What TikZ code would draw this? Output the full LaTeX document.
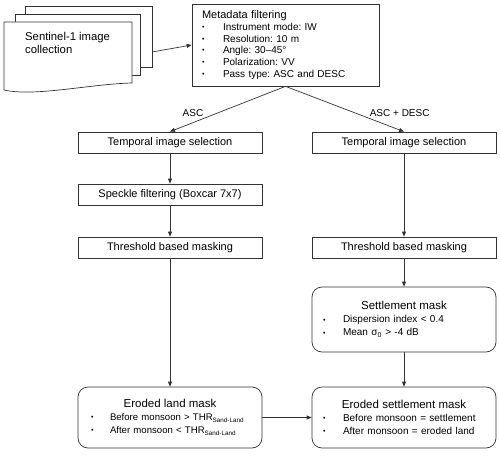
\documentclass[tikz,border=0pt]{standalone}
\usepackage{fontspec}
\setmainfont{Liberation Sans}
\usetikzlibrary{arrows.meta}
\frenchspacing

\newcommand{\bitem}[2][20pt]{\mbox{\makebox[#1][l]{\raisebox{0.8pt}{\fontsize{7}{7}\selectfont\textbullet}}#2}}
\newcommand{\boxtitle}[1]{\centerline{\fontsize{11.5}{13}\selectfont #1}}
\newcommand{\thrsl}{THR\raisebox{-2.2pt}{\fontsize{6.3}{7}\selectfont Sand-Land}}

\tikzset{
  procbox/.style={draw=black!80, line width=0.7pt, minimum width=184pt, minimum height=21pt, inner sep=2pt, font=\fontsize{11}{13}\selectfont},
  metabox/.style={draw=black!80, line width=0.7pt, minimum height=82pt, text width=167pt, inner xsep=10pt, align=left, font=\fontsize{10}{11.7}\selectfont},
  maskbox/.style={draw=black!80, line width=0.7pt, rounded corners=10pt, text width=162pt, inner xsep=11pt, align=left, font=\fontsize{10}{13}\selectfont},
  flow/.style={draw=black!80, line width=0.7pt, -{Triangle[length=5pt,width=4pt]}},
  page/.style={draw=black!80, line width=0.7pt, fill=white},
  lbl/.style={font=\fontsize{10}{12}\selectfont, inner sep=1pt},
}

\begin{document}
\begin{tikzpicture}[x=1pt,y=-1pt]
\useasboundingbox (0,0) rectangle (500,457);

%% 画像の束
\draw[page] (25,6) rectangle (152,67);
\draw[page] (15,14) rectangle (140,75);
\draw[page] (4,22) -- (132,22) -- (132,83) .. controls (90,84) and (35,97) .. (4,90) -- cycle;
\node[anchor=north west, inner sep=0pt, align=left, font=\fontsize{11.3}{13}\selectfont] (s1text) at (25,32) {Sentinel-1 image\\collection};
\coordinate (s1out) at (152,52);

%% メタデータ
\node[metabox] (meta) at (285.5,45) {{\fontsize{11}{11.7}\selectfont Metadata filtering}\\
  \bitem[21pt]{Instrument mode: IW}\\
  \bitem[21pt]{Resolution: 10 m}\\
  \bitem[21pt]{Angle: 30–45°}\\
  \bitem[21pt]{Polarization: VV}\\
  \bitem[21pt]{Pass type: ASC and DESC}};

%% 左列 (ASC)
\node[procbox] (tleft) at (170,142.5) {Temporal image selection};
\node[procbox] (speck) at (170,194.5) {Speckle filtering (Boxcar 7x7)};
\node[procbox] (thl) at (170,247.5) {Threshold based masking};
\node[maskbox, minimum height=61pt, inner xsep=13pt, text width=158pt, font=\fontsize{9.6}{13}\selectfont] (eland) at (170,417.5) {\boxtitle{Eroded land mask}
  \bitem[19pt]{Before monsoon > \thrsl}\\
  \bitem[19pt]{After monsoon < \thrsl}\par\vspace{5pt}};

%% 右列 (ASC + DESC)
\node[procbox] (tright) at (404,142.5) {Temporal image selection};
\node[procbox] (thr) at (404,247.5) {Threshold based masking};
\node[maskbox, minimum height=65pt] (settle) at (404,319.5) {\boxtitle{Settlement mask}
  \bitem{Dispersion index < 0.4}\\
  \bitem{Mean σ\textsubscript{0} > -4 dB}\par\vspace{11pt}};
\node[maskbox, minimum height=61pt] (eset) at (404,417.5) {\boxtitle{Eroded settlement mask}
  \bitem{Before monsoon = settlement}\\
  \bitem{After monsoon = eroded land}\par\vspace{5pt}};

%% 矢印
\draw[flow] (s1out) -- (meta.west);
\draw[flow] (meta.south) -- node[lbl, pos=0.7, anchor=south east] {ASC} (tleft.north);
\draw[flow] (meta.south) -- node[lbl, pos=0.7, anchor=south west] {ASC + DESC} (tright.north);

\draw[flow] (tleft) -- (speck);
\draw[flow] (speck) -- (thl);
\draw[flow] (thl) -- (eland);

\draw[flow] (tright) -- (thr);
\draw[flow] (thr) -- (settle);
\draw[flow] (settle) -- (eset);

\draw[flow] (eland) -- (eset);

\end{tikzpicture}
\end{document}
